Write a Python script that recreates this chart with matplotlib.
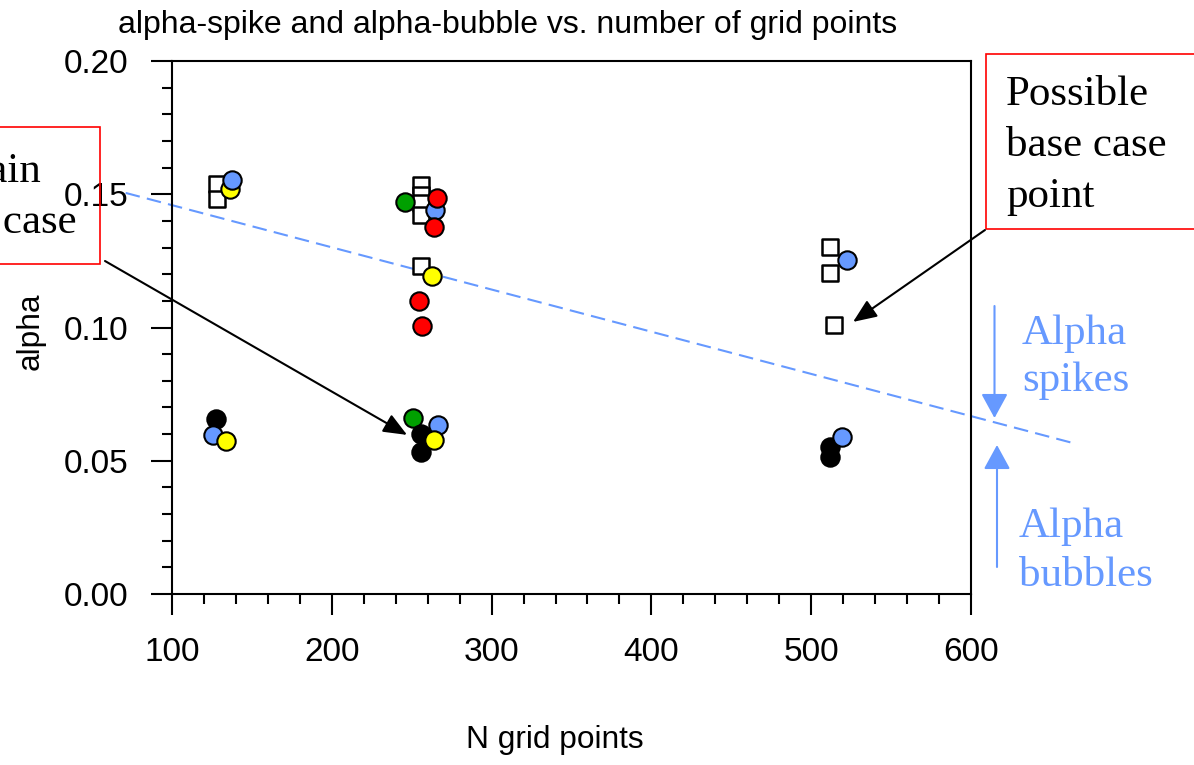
import matplotlib
matplotlib.use("Agg")
import matplotlib.pyplot as plt
from matplotlib.patches import Rectangle
from matplotlib.ticker import MultipleLocator, FormatStrFormatter

# ---- data -------------------------------------------------------------
# open squares (alpha-spike)
square_x = [128, 128, 256, 256, 256, 256, 256, 512, 512, 514]
square_y = [0.1540, 0.1482, 0.1535, 0.1497, 0.1467, 0.1422, 0.1231, 0.1302, 0.1205, 0.1009]

# coloured circles, alpha-spike points
spike_yellow_x = [136.3, 262.7]
spike_yellow_y = [0.1520, 0.1193]
spike_blue_x = [137.5, 264.6, 522.4]
spike_blue_y = [0.1553, 0.1441, 0.1253]
spike_red_x = [265.8, 264.0, 254.6, 256.4]
spike_red_y = [0.1486, 0.1377, 0.1099, 0.1006]
spike_green_x = [245.8]
spike_green_y = [0.1471]

# coloured circles, alpha-bubble points
bubble_green_x = [250.8]
bubble_green_y = [0.0660]
bubble_black_x = [127.5, 255.8, 255.8, 511.8, 511.8]
bubble_black_y = [0.0657, 0.0600, 0.0533, 0.0553, 0.0515]
bubble_blue_x = [125.7, 266.5, 519.5]
bubble_blue_y = [0.0597, 0.0634, 0.0588]
bubble_yellow_x = [133.8, 264.0]
bubble_yellow_y = [0.0574, 0.0578]

# dashed separator between spikes and bubbles
divider_x = [71.0, 666.0]
divider_y = [0.1505, 0.0563]

x_ticks = [100, 200, 300, 400, 500, 600]
y_ticks = [0.00, 0.05, 0.10, 0.15, 0.20]

TITLE = "alpha-spike and alpha-bubble vs. number of grid points"
XLABEL = "N grid points"
YLABEL = "alpha"

# ---- figure -----------------------------------------------------------
W, H = 1194, 765
fig = plt.figure(figsize=(W / 100, H / 100), dpi=100)
fig.patch.set_facecolor("white")

SANS = "Liberation Sans"
SERIF = "Liberation Serif"
BLUE = "#6699ff"


def fx(px):
    return px / W


def fy(py):
    return 1 - py / H


ax = fig.add_axes([fx(172), fy(594), fx(971) - fx(172), fy(61) - fy(594)])
ax.set_xlim(100, 600)
ax.set_ylim(0.0, 0.20)

for s in ax.spines.values():
    s.set_linewidth(1.5)

ax.xaxis.set_major_locator(MultipleLocator(100))
ax.xaxis.set_minor_locator(MultipleLocator(20))
ax.yaxis.set_major_locator(MultipleLocator(0.05))
ax.yaxis.set_minor_locator(MultipleLocator(0.01))
ax.yaxis.set_major_formatter(FormatStrFormatter("%.2f"))
ax.set_xticks(x_ticks)
ax.set_yticks(y_ticks)
ax.tick_params(which="major", direction="out", length=15, width=1.5,
               labelsize=24, top=False, right=False)
ax.tick_params(axis="y", which="major", pad=16.5)
ax.tick_params(axis="x", which="major", pad=16)
ax.tick_params(which="minor", direction="out", length=7.5, width=1.5,
               top=False, right=False)
for lab in ax.get_xticklabels() + ax.get_yticklabels():
    lab.set_fontfamily(SANS)

# dashed divider line
ax.plot(divider_x, divider_y, ls=(0, (7, 3.5)), color=BLUE, lw=1.5,
        clip_on=False, zorder=2)

MS = 175  # marker area (pt^2)
EDGE = 1.5

ax.scatter(square_x, square_y, marker="s", s=140, facecolor="white",
           edgecolor="black", linewidths=1.8, zorder=3)

spike_series = [
    (spike_yellow_x, spike_yellow_y, "#ffff00"),
    (spike_blue_x, spike_blue_y, "#6699ff"),
    (spike_red_x, spike_red_y, "#ff0000"),
    (spike_green_x, spike_green_y, "#00a000"),
]
bubble_series = [
    (bubble_green_x, bubble_green_y, "#00a000"),
    (bubble_black_x, bubble_black_y, "#000000"),
    (bubble_blue_x, bubble_blue_y, "#6699ff"),
    (bubble_yellow_x, bubble_yellow_y, "#ffff00"),
]
z = 4
for xs, ys, c in spike_series + bubble_series:
    ax.scatter(xs, ys, marker="o", s=MS, facecolor=c, edgecolor="black",
               linewidths=EDGE, zorder=z)
    z += 1

# ---- text -------------------------------------------------------------
fig.text(fx(118), fy(33), TITLE, fontsize=23, family=SANS, va="baseline")
fig.text(fx(555), fy(748), XLABEL, fontsize=22.8, family=SANS,
         ha="center", va="baseline")
fig.text(fx(31), fy(331), YLABEL, fontsize=22.8, family=SANS,
         rotation=90, ha="center", va="center")

# boxed notes (multi-line texts anchored on the baseline of their last line)
fig.patches.append(Rectangle((fx(-110), fy(264)), fx(210), fy(127) - fy(264),
                             transform=fig.transFigure, fill=False,
                             edgecolor="#ff0000", lw=1.2))
fig.text(fx(-4), fy(233), "Main\nbase case", fontsize=31, family=SERIF,
         ha="center", va="baseline", linespacing=1.42, multialignment="center")

fig.patches.append(Rectangle((fx(986), fy(229)), fx(215), fy(54) - fy(229),
                             transform=fig.transFigure, fill=False,
                             edgecolor="#ff0000", lw=1.2))
fig.text(fx(1006), fy(207), "Possible\nbase case\npoint", fontsize=31,
         family=SERIF, ha="left", va="baseline", linespacing=1.42)

# black pointer arrows
black_arrow = dict(arrowstyle="-|>,head_length=0.6,head_width=0.25",
                   mutation_scale=24, lw=1.5, color="black",
                   shrinkA=0, shrinkB=0)
ax.annotate("", xy=(247.1, 0.0597), xycoords="data",
            xytext=(105, H - 261), textcoords="figure pixels",
            arrowprops=black_arrow, annotation_clip=False)
ax.annotate("", xy=(526.2, 0.1021), xycoords="data",
            xytext=(985, H - 230), textcoords="figure pixels",
            arrowprops=black_arrow, annotation_clip=False)

# blue arrows and labels
blue_arrow = dict(arrowstyle="-|>,head_length=0.75,head_width=0.41",
                  mutation_scale=20, lw=1.5, color=BLUE,
                  shrinkA=0, shrinkB=0)
fig.add_artist(plt.Annotation("", xy=(994.5, H - 418), xycoords="figure pixels",
                              xytext=(994.5, H - 306), textcoords="figure pixels",
                              arrowprops=blue_arrow))
fig.add_artist(plt.Annotation("", xy=(997, H - 445), xycoords="figure pixels",
                              xytext=(997, H - 567), textcoords="figure pixels",
                              arrowprops=blue_arrow))
fig.text(fx(1022), fy(391), "Alpha\nspikes", fontsize=31, family=SERIF,
         color=BLUE, ha="left", va="baseline", linespacing=1.3)
fig.text(fx(1019), fy(586), "Alpha\nbubbles", fontsize=31, family=SERIF,
         color=BLUE, ha="left", va="baseline", linespacing=1.37)

fig.savefig("out.png", dpi=100, facecolor="white")
